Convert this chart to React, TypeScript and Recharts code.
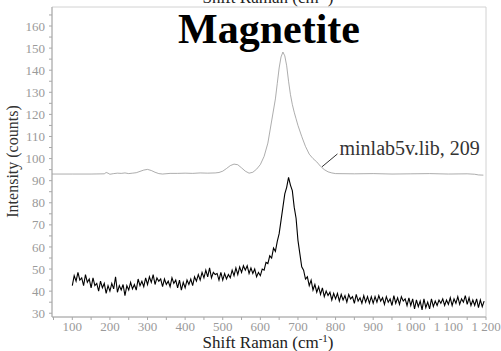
import {
    Line,
    LineChart,
    ReferenceArea,
    ReferenceLine,
    XAxis,
    YAxis,
} from 'recharts';

const FONT = '"Liberation Serif", "Times New Roman", serif';

// sample grid of the measured spectrum (cm-1)
const sampleStart = 100;
const sampleStep = 5;

// measured magnetite spectrum, one row per 100 cm-1
const sampleCounts = [
    42.5, 47, 44.5, 48.5, 45, 46, 42.5, 47.5, 44, 45.5, 41.5, 46, 42.5, 43.5, 40, 44.5, 41.5, 43.5, 39, 42.5,
    40, 43.5, 41, 46.5, 39.5, 42.5, 40.5, 43, 38, 42.5, 40.5, 44, 41, 43, 40.5, 45.5, 42.5, 44.5, 42, 46,
    43, 46.5, 44, 47.5, 43, 46, 44.5, 45.5, 42, 45.5, 43, 44.5, 42, 46, 43.5, 45, 41.5, 45, 40.5, 44,
    41.5, 45, 43, 45.5, 42.5, 46.5, 44.5, 47.5, 45, 48.5, 46, 49.5, 46.5, 50.5, 46, 48.5, 47.5, 48, 45, 48.5,
    45, 48, 45.5, 47.5, 46, 49.5, 47, 50.5, 47.5, 51, 48.5, 51.5, 49.5, 51.5, 48, 50.5, 48, 50, 46.5, 48.5,
    47, 50, 49.5, 53, 52.5, 56, 55, 59.5, 58, 62.5, 66, 72, 78, 84, 87, 91.5, 88, 85.5, 78, 73,
    63, 57, 51, 49.5, 45.5, 46.5, 42.5, 45, 40.5, 43, 39.5, 42, 38.5, 41.5, 37.5, 40, 38, 39.5, 36, 39,
    36.5, 39, 35.5, 38.5, 36, 38, 35, 38.5, 36.5, 37.5, 34.5, 38.5, 35.5, 37, 34.5, 38, 35, 37.5, 34.5, 37.5,
    34.5, 37.5, 35, 38, 35.5, 37, 34, 37.5, 35, 36.5, 33.5, 38, 34.5, 37, 34, 37.5, 35.5, 36.5, 33.5, 37,
    33.5, 36.5, 32, 36, 33, 35.5, 31.5, 36.5, 32.5, 35, 32, 36.5, 33, 35.5, 33.5, 36, 34.5, 36.5, 33.5, 36,
    34, 37, 33.5, 36.5, 34.5, 37.5, 34, 36.5, 35, 38, 34, 37, 33.5, 36, 33.5, 36.5, 32.5, 36, 33, 35.5,
];

// library reference spectrum (minlab5v.lib, 209), offset above the sample
const refShift = [
    46, 100, 150, 185, 190, 195, 200, 210, 220, 230, 240, 250, 260, 270, 280, 290, 300, 310, 320, 330,
    340, 360, 380, 400, 420, 440, 460, 480, 490, 500, 510, 520, 530, 540, 550, 560, 570, 580, 590, 600,
    610, 620, 630, 640, 645, 650, 655, 660, 665, 670, 675, 680, 685, 690, 695, 700, 710, 720, 730, 740,
    750, 760, 770, 780, 790, 800, 850, 900, 950, 1000, 1050, 1100, 1150, 1170, 1180, 1193,
];
const refCounts = [
    93, 93, 93, 93.1, 93.7, 93.4, 92.9, 93.2, 93.4, 93.3, 93.5, 93.2, 93.4, 93.6, 94.2, 94.8, 95.1, 94.6, 93.8, 93.2,
    93.0, 93.3, 93.3, 93.4, 93.3, 93.5, 93.4, 93.5, 93.7, 94.3, 95.5, 96.8, 97.5, 97.2, 95.8, 94.3, 93.4, 93.8, 95.2, 97.3,
    101, 107, 117, 127, 134, 141, 146, 148.2, 146.5, 142, 135, 129, 124.5, 121, 118, 115, 110, 105.5, 102, 100,
    98.5, 96.5, 95, 94, 93.5, 93.2, 93.1, 93.2, 93.0, 93.1, 93.2, 93.0, 93.1, 92.9, 92.6, 92.5,
];

const xTicks = [
    50, 100, 150, 200, 250, 300, 350, 400, 450, 500, 550, 600, 650,
    700, 750, 800, 850, 900, 950, 1000, 1050, 1100, 1150, 1200,
];
const yTicks = [
    30, 35, 40, 45, 50, 55, 60, 65, 70, 75, 80, 85, 90, 95,
    100, 105, 110, 115, 120, 125, 130, 135, 140, 145, 150, 155, 160, 165,
];

const xDomain: [number, number] = [46, 1200];
const yDomain: [number, number] = [28.3, 168.6];

const sampleData = sampleCounts.map((counts, i) => ({
    shift: sampleStart + i * sampleStep,
    counts,
}));
const refData = refShift.map((shift, i) => ({ shift, counts: refCounts[i] }));

const fmtX = (v: number) => {
    if (v % 100 !== 0) return '';
    if (v >= 1000) return `1 ${String(v).slice(1)}`;
    return String(v);
};
const fmtY = (v: number) => (v % 10 === 0 ? String(v) : '');

function XTick({ x, y, payload }: any) {
    return (
        <text x={x} y={y} dy="0.71em" textAnchor="middle" fontSize={13} fill="#9a9a9a" style={{ fontFamily: FONT }}>
            {fmtX(payload.value)}
        </text>
    );
}

function YTick({ x, y, payload }: any) {
    return (
        <text x={x} y={y} dy="0.355em" textAnchor="end" fontSize={13} fill="#9a9a9a" style={{ fontFamily: FONT }}>
            {fmtY(payload.value)}
        </text>
    );
}

export default function App() {
    return (
        <div style={{ position: 'absolute', left: 0, top: 0, width: 501, height: 351, background: '#fff' }}>
            <LineChart width={501} height={351} margin={{ top: 7, right: 15, bottom: 0, left: 0 }}>
                <ReferenceArea
                    x1={xDomain[0]}
                    x2={xDomain[1]}
                    y1={yDomain[0]}
                    y2={yDomain[1]}
                    fill="none"
                    stroke="#d2d2d2"
                    strokeWidth={1}
                />
                <XAxis
                    type="number"
                    dataKey="shift"
                    domain={xDomain}
                    allowDataOverflow
                    ticks={xTicks}
                    interval={0}
                    tick={<XTick />}
                    tickSize={3}
                    height={34}
                    stroke="#a8a8a8"
                />
                <YAxis
                    type="number"
                    domain={yDomain}
                    allowDataOverflow
                    ticks={yTicks}
                    interval={0}
                    tick={<YTick />}
                    tickSize={3}
                    tickMargin={4}
                    width={52}
                    stroke="#a8a8a8"
                />
                <Line
                    data={refData}
                    dataKey="counts"
                    stroke="#8a8a8a"
                    strokeWidth={0.7}
                    dot={false}
                    type="linear"
                    isAnimationActive={false}
                />
                <Line
                    data={sampleData}
                    dataKey="counts"
                    stroke="#000"
                    strokeWidth={1.1}
                    dot={false}
                    type="linear"
                    isAnimationActive={false}
                />
                <ReferenceLine
                    segment={[
                        { x: 764, y: 96.3 },
                        { x: 805, y: 102.1 },
                    ]}
                    stroke="#333"
                    strokeWidth={1}
                />
            </LineChart>
            <svg
                width={501}
                height={351}
                style={{ position: 'absolute', left: 0, top: 0, pointerEvents: 'none', fontFamily: FONT }}
            >
                <text x={268} y={2.5} textAnchor="middle" fontSize={17} fill="#222">
                    Shift Raman (cm<tspan baselineShift="super" fontSize={11}>-1</tspan>)
                </text>
                <text x={269} y={42.7} textAnchor="middle" fontSize={42} fontWeight="bold" fill="#000">
                    Magnetite
                </text>
                <text x={339.5} y={155} fontSize={20} fill="#333">
                    minlab5v.lib, 209
                </text>
                <text x={268} y={348} textAnchor="middle" fontSize={17} fill="#222">
                    Shift Raman (cm<tspan baselineShift="super" fontSize={11}>-1</tspan>)
                </text>
                <text
                    x={18}
                    y={161.5}
                    textAnchor="middle"
                    fontSize={16}
                    fill="#333"
                    transform="rotate(-90, 18, 161.5)"
                >
                    Intensity (counts)
                </text>
            </svg>
        </div>
    );
}
